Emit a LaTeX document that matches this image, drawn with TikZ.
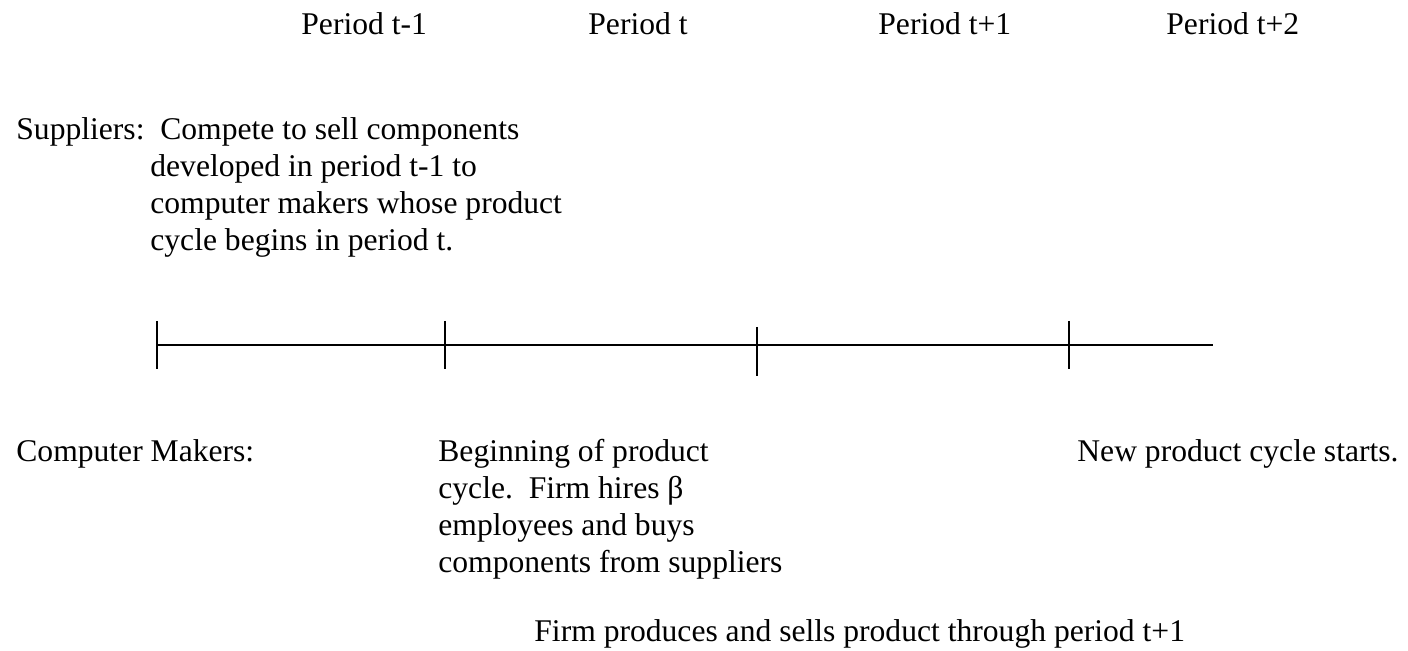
\documentclass[tikz,border=0pt]{standalone}
\usepackage{fontspec}
\setmainfont{Liberation Serif}
\usepackage{tikz}

\tikzset{
	txt/.style={anchor=base west, inner sep=0pt, font=\fontsize{15.8}{18.35}\selectfont},
	tick/.style={line width=0.8pt},
}

\begin{document}
\begin{tikzpicture}[x=0.5pt, y=-0.5pt]
				\useasboundingbox (0,0) rectangle (1408,651);
				% periods
				\node[txt] (p0) at (301, 35) {Period t-1};
				\node[txt] (p1) at (588, 35) {Period t};
				\node[txt] (p2) at (878, 35) {Period t+1};
				\node[txt] (p3) at (1166, 35) {Period t+2};
				% suppliers
				\node[txt] (sup) at (16, 140) {Suppliers:\ \ Compete to sell components};
				\node[txt] (supnote) at (150, 177) {\begin{tabular}[t]{@{}l@{}}developed in period t-1 to\\computer makers whose product\\cycle begins in period t.\end{tabular}};
				% time line
				\coordinate (t0) at (157, 345);
				\coordinate (t1) at (445, 345);
				\coordinate (t2) at (757, 345);
				\coordinate (t3) at (1069, 345);
				\coordinate (tend) at (1213, 345);
				\draw[tick] (t0) -- (t1) -- (t2) -- (t3) -- (tend);
				\draw[tick] (t0) ++(0,-24) -- ++(0,48);
				\draw[tick] (t1) ++(0,-24) -- ++(0,48);
				\draw[tick] (t2) ++(0,-18) -- ++(0,49);
				\draw[tick] (t3) ++(0,-24) -- ++(0,48);
				% computer makers
				\node[txt] (mak) at (16, 462) {Computer Makers:};
				\node[txt] (begin) at (438, 462) {\begin{tabular}[t]{@{}l@{}}Beginning of product\\cycle.\ \ Firm hires β\\employees and buys\\components from suppliers\end{tabular}};
				\node[txt] (new) at (1077, 462) {New product cycle starts.};
				\node[txt] (sells) at (534, 641) {Firm produces and sells product through period t+1};
			\end{tikzpicture}
\end{document}
